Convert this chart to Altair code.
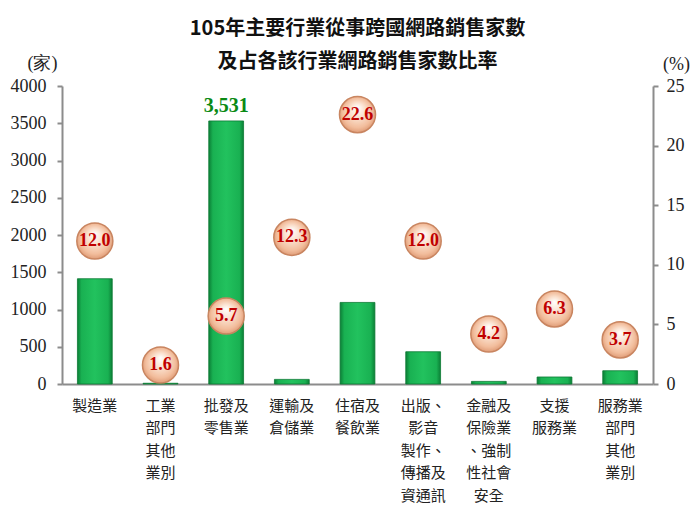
import altair as alt
import pandas as pd

categories = ["製造業", "工業|部門|其他|業別", "批發及|零售業", "運輸及|倉儲業", "住宿及|餐飲業",
              "出版、|影音|製作、|傳播及|資通訊|服務業", "金融及|保險業|、強制|性社會|安全", "支援|服務業",
              "服務業|部門|其他|業別"]
counts = [1413, 10, 3531, 62, 1095, 433, 35, 94, 178]
rates = [12.0, 1.6, 5.7, 12.3, 22.6, 12.0, 4.2, 6.3, 3.7]
count_labels = ["", "", "3,531", "", "", "", "", "", ""]

df = pd.DataFrame({"cat": categories, "count": counts, "rate": rates, "clabel": count_labels})

x = alt.X("cat:N", sort=categories, title=None,
          scale=alt.Scale(paddingInner=0.47, paddingOuter=0.235),
          axis=alt.Axis(labelExpr="split(datum.label, '|')", labelAngle=0, ticks=False,
                        labelFont="Noto Sans CJK TC", labelFontSize=15, labelColor="#222",
                        labelLineHeight=22.5, labelPadding=14, labelBaseline="top",
                        domainColor="#8c8c8c", domainWidth=2))

bar_fill = alt.LinearGradient(gradient="linear", x1=0, x2=1, y1=0, y2=0,
                              stops=[alt.GradientStop(offset=0, color="#0b7f36"),
                                     alt.GradientStop(offset=0.12, color="#19b152"),
                                     alt.GradientStop(offset=0.5, color="#22c25e"),
                                     alt.GradientStop(offset=0.88, color="#19b152"),
                                     alt.GradientStop(offset=1, color="#0b7f36")])

y_left = alt.Y("count:Q", scale=alt.Scale(domain=[0, 4000]), title="(家)",
               axis=alt.Axis(values=list(range(0, 4001, 500)), format="d", grid=False, orient="left",
                             labelFont="Liberation Serif", labelFontSize=18, labelColor="#222",
                             tickColor="#8c8c8c", tickSize=5, domainColor="#8c8c8c", domainWidth=2,
                             tickWidth=2, labelPadding=11,
                             titleAngle=0, titleX=-20, titleY=-23, titleAlign="center",
                             titleBaseline="middle", titleFont="Liberation Serif",
                             titleFontSize=18, titleFontWeight="normal", titleColor="#222"))

bars = alt.Chart(df).mark_bar(fill=bar_fill, stroke="#0b7a34", strokeWidth=0.8).encode(x=x, y=y_left)

bar_text = alt.Chart(df).mark_text(font="Liberation Serif", fontSize=20, fontWeight="bold",
                                   color="#0a8a14", baseline="bottom", dy=-5).encode(
    x=x, y=y_left, text="clabel:N")

left = alt.layer(bars, bar_text)

circle_fill = alt.RadialGradient(gradient="radial", x1=0.5, y1=0.3, x2=0.5, y2=0.5, r1=0, r2=0.55,
                                 stops=[alt.GradientStop(offset=0, color="#ffffff"),
                                        alt.GradientStop(offset=0.35, color="#fbe3d2"),
                                        alt.GradientStop(offset=0.75, color="#f2bd9c"),
                                        alt.GradientStop(offset=1, color="#d9916b")])

y_right = alt.Y("rate:Q", scale=alt.Scale(domain=[0, 25]), title="(%)",
                axis=alt.Axis(values=[0, 5, 10, 15, 20, 25], grid=False, orient="right",
                              labelFont="Liberation Serif", labelFontSize=18, labelColor="#222",
                              tickColor="#8c8c8c", tickSize=5, tickWidth=2, domainColor="#8c8c8c",
                              domainWidth=2, labelPadding=8,
                              titleAngle=0, titleX=23, titleY=-22, titleAlign="center",
                              titleBaseline="middle", titleFont="Liberation Serif",
                              titleFontSize=18, titleFontWeight="normal", titleColor="#222"))

circles = alt.Chart(df).mark_point(shape="circle", size=1300, filled=True, fill=circle_fill,
                                   stroke="#c98560", strokeWidth=1.5, opacity=1).encode(x=x, y=y_right)

circle_text = alt.Chart(df).mark_text(font="Liberation Serif", fontSize=18, fontWeight="bold",
                                      color="#c00000", baseline="middle").encode(
    x=x, y=y_right, text=alt.Text("rate:Q", format=".1f"))

right = alt.layer(circles, circle_text)

chart = alt.layer(left, right).resolve_scale(y="independent").properties(
    width=591, height=298, background="white",
    title=alt.TitleParams(text=["105年主要行業從事跨國網路銷售家數", "及占各該行業網路銷售家數比率"],
                          font="Noto Sans CJK TC", fontSize=20, fontWeight="bold", color="#111",
                          lineHeight=33, anchor="middle", offset=-18),
    autosize=alt.AutoSizeParams(type="none"),
    padding={"left": 54, "top": 78, "right": 37, "bottom": 120},
).configure_view(stroke=None)

chart.save("out.html", embed_options={"renderer": "svg", "actions": False})
